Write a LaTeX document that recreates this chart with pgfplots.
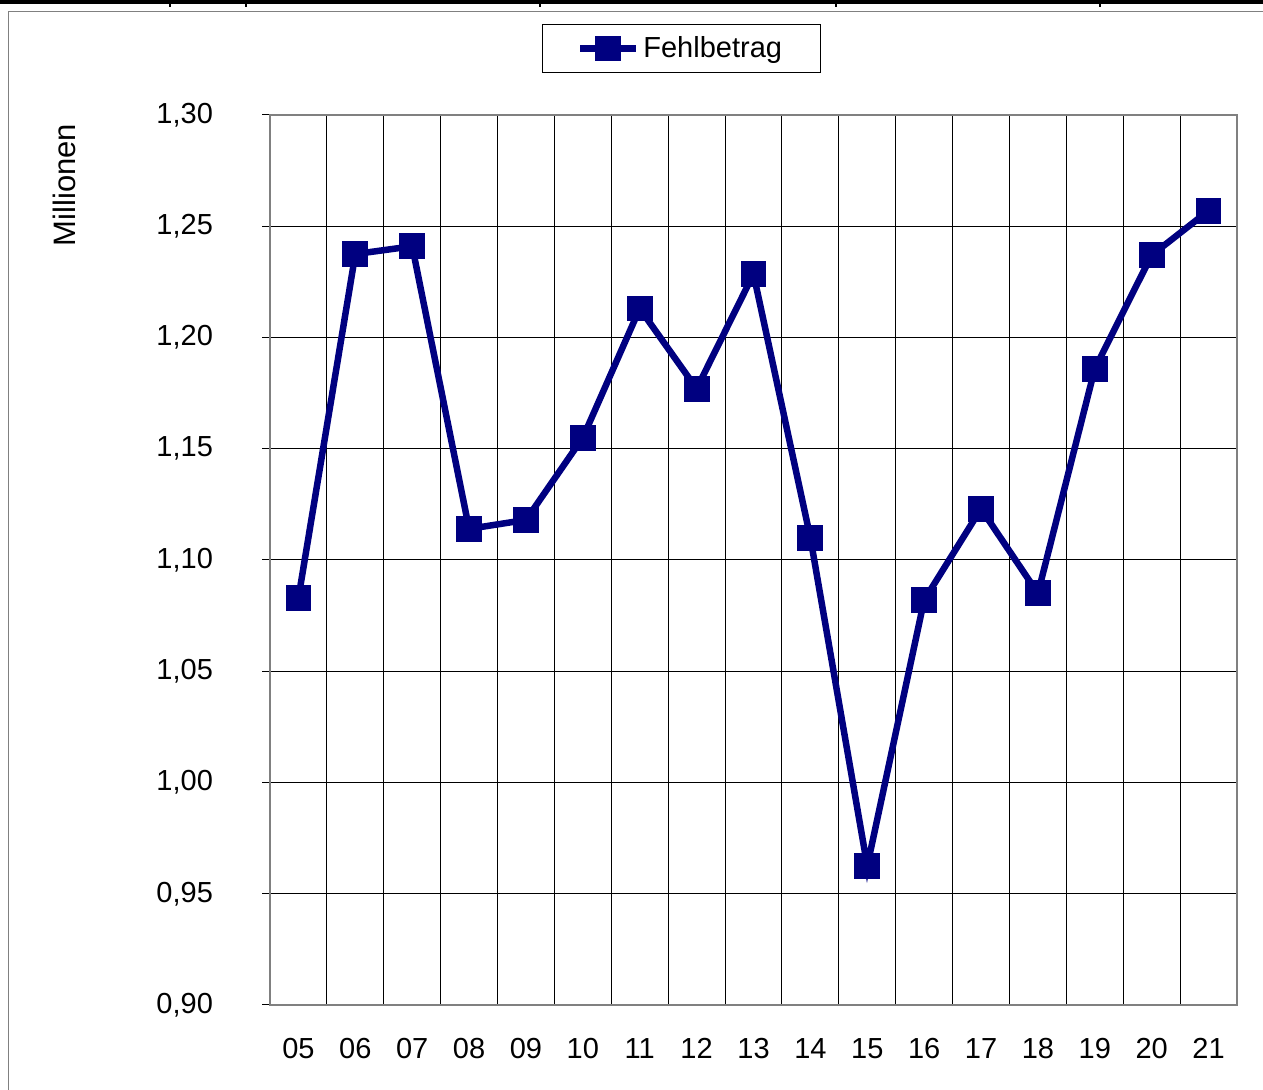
\documentclass[border=0pt]{standalone}
\usepackage{fontspec}
\setmainfont{Liberation Sans}
\usepackage{pgfplots}
\pgfplotsset{compat=1.18}
\usepackage{pgfplotstable}

\definecolor{navyline}{RGB}{0,0,128}
\definecolor{boxgray}{RGB}{128,128,128}

% Fehlbetrag in Millionen, Jahre 05..21
\pgfplotstableread{
idx jahr wert
0  05 1.083
1  06 1.2375
2  07 1.241
3  08 1.114
4  09 1.118
5  10 1.155
6  11 1.213
7  12 1.177
8  13 1.2285
9  14 1.110
10 15 0.9625
11 16 1.082
12 17 1.123
13 18 1.085
14 19 1.186
15 20 1.237
16 21 1.257
}\datatable

\begin{document}
\begin{tikzpicture}[font=\fontsize{14.5pt}{17pt}\selectfont]
% page = 1263 x 1090 px, 1 px = 0.5pt
\path[use as bounding box] (0,0) rectangle (631.5pt,545pt);

% table rule at the very top
\fill[black] (0,543pt) rectangle (631.5pt,545pt);
\foreach \xx in {170,246,540,836,1100}
  \draw[black, line width=0.75pt] (\xx*0.5pt,545pt) -- (\xx*0.5pt,541.5pt);

% chart frame
\draw[boxgray, line width=0.9pt] (640pt,539.2pt) -- (4.2pt,539.2pt) -- (4.2pt,-5pt);

\begin{axis}[
  at={(135pt,42.5pt)},
  anchor=south west,
  scale only axis,
  width=483.5pt,
  height=445pt,
  xmin=-0.5, xmax=16.5,
  ymin=0.90, ymax=1.30,
  xtick={0,...,16},
  xticklabels={05,06,07,08,09,10,11,12,13,14,15,16,17,18,19,20,21},
  minor xtick={0.5,1.5,...,15.5},
  minor x tick style={draw=none},
  major x tick style={draw=none},
  xminorgrids,
  ytick={0.90,0.95,...,1.31},
  ymajorgrids,
  grid style={black, line width=0.5pt},
  minor grid style={black, line width=0.5pt},
  tick align=outside,
  ytick pos=left,
  xtick pos=bottom,
  major tick length=4pt,
  y tick style={black, line width=0.5pt},
  axis line style={boxgray, line width=1.2pt},
  /pgf/number format/.cd, fixed, fixed zerofill, precision=2, use comma, assume math mode=true,
  /pgfplots/.cd,
  tick label style={font=\fontsize{14.5pt}{17pt}\selectfont},
  yticklabel style={xshift=-21pt},
  xticklabel style={yshift=-9pt},
  legend style={
    at={(0.4255,1.0747)}, anchor=center,
    draw=black, line width=0.5pt,
    font=\fontsize{14.5pt}{17pt}\selectfont,
    inner xsep=17pt, inner ysep=4pt,
    /tikz/every even column/.append style={column sep=2pt}
  },
  legend image code/.code={
    \draw[#1, line width=3.25pt] (0pt,0pt) -- (28pt,0pt);
    \draw[#1, mark repeat=2, mark phase=2, mark size=4.5pt] plot coordinates {(0pt,0pt) (14pt,0pt) (28pt,0pt)};
  },
]
\addplot[navyline, line width=3.25pt, mark=square*,
  mark options={fill=navyline, draw=navyline, line width=0.5pt, mark size=6.2pt}]
  table[x=idx, y=wert] {\datatable};
\addlegendentry{Fehlbetrag}
\end{axis}

\node[rotate=90, font=\fontsize{15.5pt}{18pt}\selectfont] at (32pt,452.5pt) {Millionen};
\end{tikzpicture}
\end{document}
